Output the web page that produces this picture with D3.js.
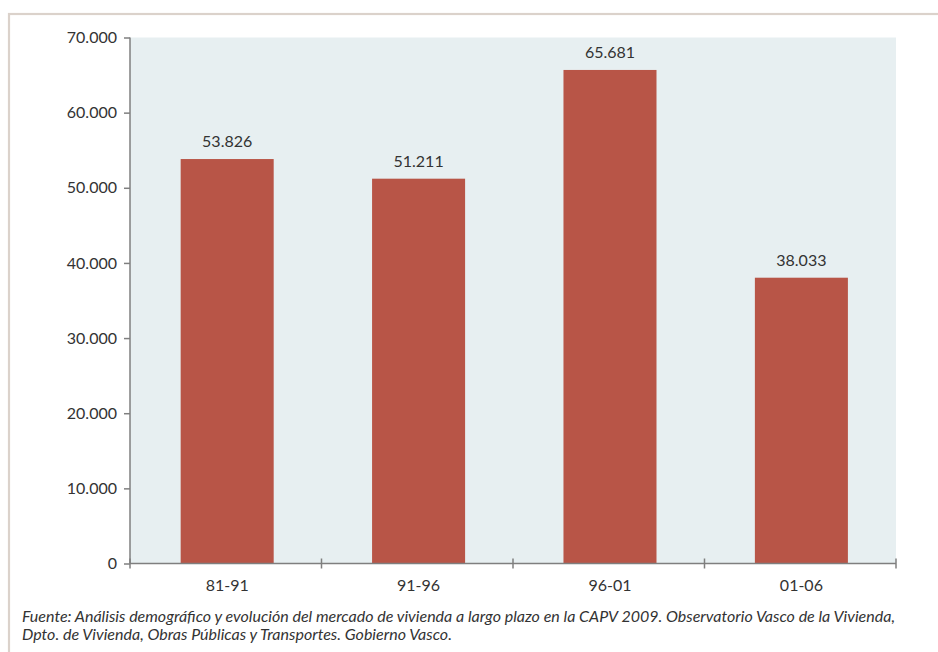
<!DOCTYPE html>
<html>
<head>
<meta charset="utf-8">
<script src="https://cdn.jsdelivr.net/npm/d3@7"></script>
<style>
  html, body { margin: 0; padding: 0; background: #fff; }
  svg { display: block; }
</style>
</head>
<body>
<svg id="chart" width="938" height="652"></svg>
<script>
const categories = ["81-91", "91-96", "96-01", "01-06"];
const values = [53826, 51211, 65681, 38033];
const yTicks = [0, 10000, 20000, 30000, 40000, 50000, 60000, 70000];
const sourceLines = [
  "Fuente: Análisis demográfico y evolución del mercado de vivienda a largo plazo en la CAPV 2009. Observatorio Vasco de la Vivienda,",
  "Dpto. de Vivienda, Obras Públicas y Transportes. Gobierno Vasco."
];

(function () {
const fmt = v => d3.format(",")(v).replace(/,/g, ".");
const FONT = "Lato, 'Open Sans', sans-serif";
const svg = d3.select("#chart");

// frame
svg.append("rect").attr("x", 9).attr("y", 14).attr("width", 940).attr("height", 650)
  .attr("fill", "none").attr("stroke", "#dbd2cb").attr("stroke-width", 2.2);

const pL = 130, pR = 896, pT = 37.5, pB = 563.5;
const x = d3.scaleBand().domain(categories).range([pL, pR]).paddingInner(0.514).paddingOuter(0.258).align(0.513);
const xPos = d3.scalePoint().domain(d3.range(categories.length + 1)).range([pL, pR]);
const y = d3.scaleLinear().domain([0, 70000]).range([pB, pT]);

svg.append("rect").attr("x", pL).attr("y", pT).attr("width", pR - pL).attr("height", pB - pT)
  .attr("fill", "#e7eff1");

svg.selectAll("rect.bar").data(values).join("rect").attr("class", "bar")
  .attr("x", (d, i) => x(categories[i]))
  .attr("y", d => y(d))
  .attr("width", x.bandwidth())
  .attr("height", d => y(0) - y(d))
  .attr("fill", "#b85547");

svg.selectAll("text.val").data(values).join("text").attr("class", "val")
  .attr("x", (d, i) => x(categories[i]) + x.bandwidth() / 2)
  .attr("y", d => y(d) - 12)
  .attr("text-anchor", "middle")
  .attr("font-family", FONT).attr("font-size", 16).attr("fill", "#333")
  .text(d => fmt(d));

// y axis
const yAxis = svg.append("g").attr("transform", `translate(${pL},0)`)
  .call(d3.axisLeft(y).tickValues(yTicks).tickSize(6).tickPadding(7).tickFormat(fmt));
yAxis.select(".domain").attr("stroke", "#7f7f7f").attr("stroke-width", 1.5).attr("d", `M0,${pT}V${pB}`);
yAxis.selectAll(".tick line").attr("stroke", "#7f7f7f").attr("stroke-width", 1.5);
yAxis.selectAll(".tick text").attr("font-family", FONT).attr("font-size", 16).attr("fill", "#333");

// x axis
const xAxis = svg.append("g").attr("transform", `translate(0,${pB})`)
  .call(d3.axisBottom(x).tickSize(0).tickPadding(16));
xAxis.select(".domain").attr("stroke", "#7f7f7f").attr("stroke-width", 1.5).attr("d", `M${pL},0H${pR}`);
xAxis.selectAll(".tick text").attr("font-family", FONT).attr("font-size", 16).attr("fill", "#333");
xAxis.selectAll("line.sep").data(xPos.domain()).join("line").attr("class", "sep")
  .attr("x1", d => xPos(d)).attr("x2", d => xPos(d)).attr("y1", -5).attr("y2", 5)
  .attr("stroke", "#7f7f7f").attr("stroke-width", 1.5);

// source
const src = svg.selectAll("text.src").data(sourceLines).join("text").attr("class", "src")
  .attr("x", 22).attr("y", (d, i) => 622 + i * 18)
  .attr("font-family", FONT).attr("font-style", "italic").attr("font-size", 13).attr("fill", "#333")
  .text(d => d);
const w = src.nodes()[0].getComputedTextLength();
const fs = 13 * 874 / w;
src.attr("font-size", fs);
})();
</script>
</body>
</html>
